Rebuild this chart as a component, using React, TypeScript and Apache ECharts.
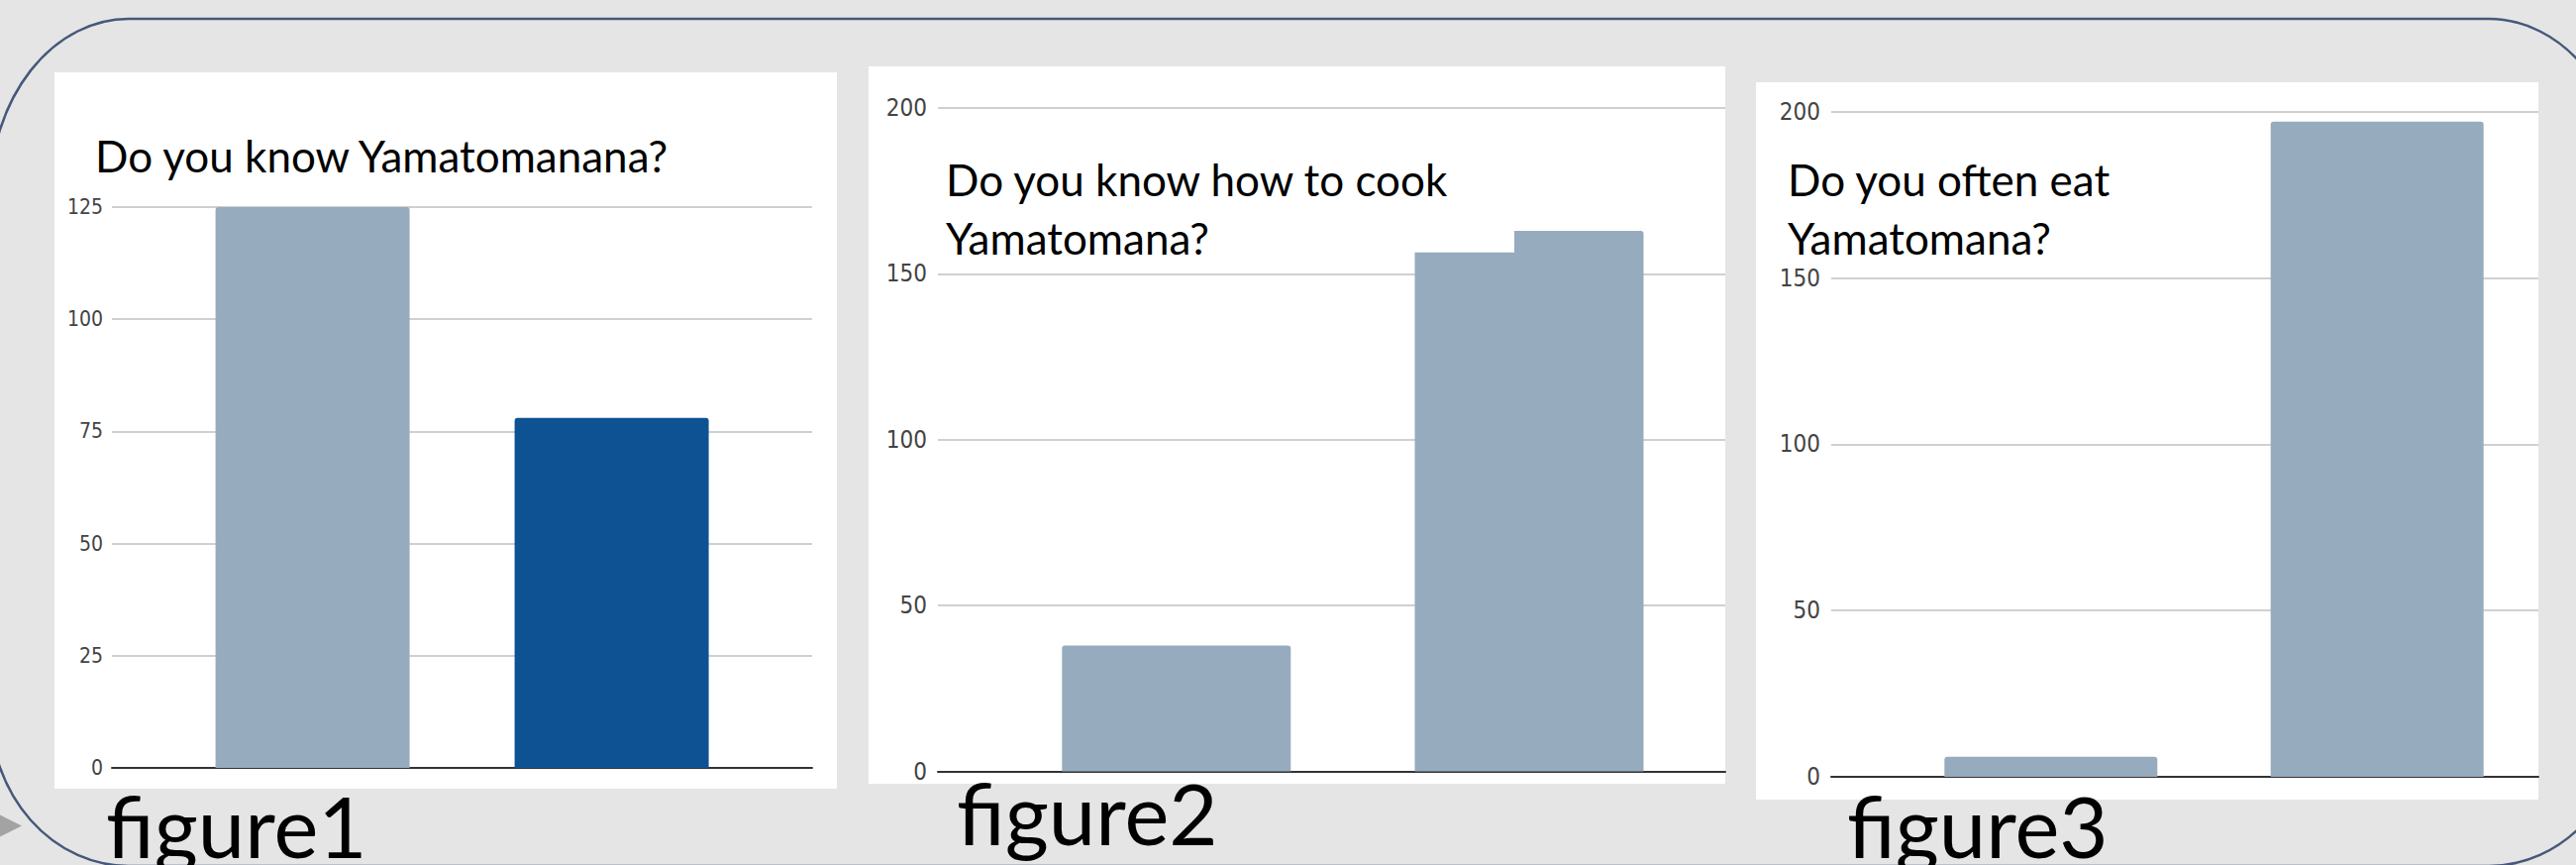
import React, { useEffect, useRef } from "react";
import * as echarts from "echarts";

// ---------- data ----------
const fig1Categories = ["Yes", "No"];
const fig1Values = [125, 78];
const fig1Colors = ["#97abbf", "#0e5294"];
const fig1Title = ["Do you know Yamatomanana?"];

const fig2Categories = ["Yes", "No"];
const fig2Values = [38, 163];
const fig2Colors = ["#97abbf", "#97abbf"];
const fig2Title = ["Do you know how to cook", "Yamatomana?"];

const fig3Categories = ["Yes", "No"];
const fig3Values = [6, 197];
const fig3Colors = ["#97abbf", "#97abbf"];
const fig3Title = ["Do you often eat", "Yamatomana?"];

const figureLabels = ["figure1", "figure2", "figure3"];
const axisMax = [125, 200, 200];
const axisInterval = [25, 50, 50];

// ---------- layout (positions / styles) ----------
const layouts = [
  {
    panel: { x: 55, y: 73, w: 790, h: 723 },
    frame: { left: 113, top: 209, width: 707, height: 566 },
    bars: { left: 164.6, width: 604 },
    barWidth: 196, labelSize: 21, labelMargin: 9,
    titleX: 96, titleBaselines: [174], cover: null as null | number[],
    labelX: 107, labelBaseline: 866,
  },
  {
    panel: { x: 877, y: 67, w: 865, h: 724 },
    frame: { left: 947, top: 109, width: 795, height: 669.6 },
    bars: { left: 1009.7, width: 712.4 },
    barWidth: 231, labelSize: 24, labelMargin: 11,
    titleX: 955, titleBaselines: [198.3, 256.8], cover: [948, 150, 581, 104.7],
    labelX: 966, labelBaseline: 853,
  },
  {
    panel: { x: 1773, y: 83, w: 790, h: 724 },
    frame: { left: 1849, top: 112.8, width: 714, height: 671.1 },
    bars: { left: 1906.1, width: 658.8 },
    barWidth: 215, labelSize: 24, labelMargin: 11,
    titleX: 1805, titleBaselines: [198.3, 256.8], cover: [1795, 150, 345, 119],
    labelX: 1865, labelBaseline: 866,
  },
];

const figs = [
  { cats: fig1Categories, vals: fig1Values, colors: fig1Colors, title: fig1Title },
  { cats: fig2Categories, vals: fig2Values, colors: fig2Colors, title: fig2Title },
  { cats: fig3Categories, vals: fig3Values, colors: fig3Colors, title: fig3Title },
];

const TITLE_FONT = 44;
const FIG_FONT = 85;
const CENTRAL = 0.387; // Lato central-baseline offset (em)

const framePath =
  "M 130 19 L 2513 19 A 140 178 0 0 1 2653 197 L 2653 716 A 140 158 0 0 1 2513 874 " +
  "L 130 874 A 140 158 0 0 1 -10 716 L -10 197 A 140 178 0 0 1 130 19 Z";

echarts.graphic.registerShape("frame", echarts.graphic.extendPath(framePath, {}) as any);

function buildOption() {
  const grid: any[] = [];
  const xAxis: any[] = [];
  const yAxis: any[] = [];
  const series: any[] = [];
  const graphic: any[] = [];

  // background frame
  graphic.push({
    type: "frame", x: 0, y: 0, z: -5,
    style: { fill: null, stroke: "#46587a", lineWidth: 2.5 },
  });
  graphic.push({
    type: "polygon", z: -5,
    shape: { points: [[-15, 815], [22, 833.5], [-15, 852]] },
    style: { fill: "#a3a3a3" },
  });

  figs.forEach((f, i) => {
    const L = layouts[i];
    // panel
    graphic.push({
      type: "rect", z: -4,
      shape: { x: L.panel.x, y: L.panel.y, width: L.panel.w, height: L.panel.h },
      style: { fill: "#ffffff" },
    });
    // frame grid (gridlines, labels, baseline)
    grid.push({ left: L.frame.left, top: L.frame.top, width: L.frame.width, height: L.frame.height });
    const gi = grid.length - 1;
    xAxis.push({
      type: "value", gridIndex: gi, min: 0, max: 1,
      axisLine: { show: true, onZero: false, lineStyle: { color: "#333333", width: 2 } },
      axisTick: { show: false }, axisLabel: { show: false }, splitLine: { show: false },
    });
    yAxis.push({
      type: "value", gridIndex: gi, min: 0, max: axisMax[i], interval: axisInterval[i],
      axisLine: { show: false }, axisTick: { show: false },
      axisLabel: {
        color: "#444444", fontSize: L.labelSize, margin: L.labelMargin,
        fontFamily: "'Liberation Sans Narrow', 'DejaVu Sans Condensed', sans-serif",
      },
      splitLine: { show: true, lineStyle: { color: "#d0d0d0", width: 2 } },
    });
    // bars grid
    grid.push({ left: L.bars.left, top: L.frame.top, width: L.bars.width, height: L.frame.height });
    const bi = grid.length - 1;
    xAxis.push({ type: "category", gridIndex: bi, data: f.cats, show: false });
    yAxis.push({ type: "value", gridIndex: bi, min: 0, max: axisMax[i], show: false });
    series.push({
      type: "bar", xAxisIndex: xAxis.length - 1, yAxisIndex: yAxis.length - 1,
      barWidth: L.barWidth,
      data: f.vals.map((v, k) => ({ value: v, itemStyle: { color: f.colors[k] } })),
      itemStyle: { borderRadius: [3, 3, 0, 0] },
    });
    // title cover box
    if (L.cover) {
      graphic.push({
        type: "rect", z: 10,
        shape: { x: L.cover[0], y: L.cover[1], width: L.cover[2], height: L.cover[3] },
        style: { fill: "#ffffff" },
      });
    }
    f.title.forEach((line, k) => {
      graphic.push({
        type: "text", z: 11,
        style: {
          text: line, x: L.titleX, y: L.titleBaselines[k] - CENTRAL * TITLE_FONT,
          fill: "#000000", fontSize: TITLE_FONT, fontFamily: "Lato",
          align: "left", verticalAlign: "middle",
        },
      });
    });
    graphic.push({
      type: "text", z: 11,
      style: {
        text: figureLabels[i], x: L.labelX, y: L.labelBaseline - CENTRAL * FIG_FONT,
        fill: "#000000", fontSize: FIG_FONT, fontFamily: "Lato",
        align: "left", verticalAlign: "middle",
      },
    });
  });

  return {
    animation: false,
    backgroundColor: "#e5e5e5",
    grid, xAxis, yAxis, series, graphic,
  };
}

export default function App() {
  const ref = useRef<HTMLDivElement>(null);
  useEffect(() => {
    if (!ref.current) return;
    const chart = echarts.init(ref.current, undefined, { renderer: "svg" });
    chart.setOption(buildOption() as any);
    return () => chart.dispose();
  }, []);
  return (
    <div
      ref={ref}
      style={{ position: "fixed", left: 0, top: 0, width: 2601, height: 873 }}
    />
  );
}
